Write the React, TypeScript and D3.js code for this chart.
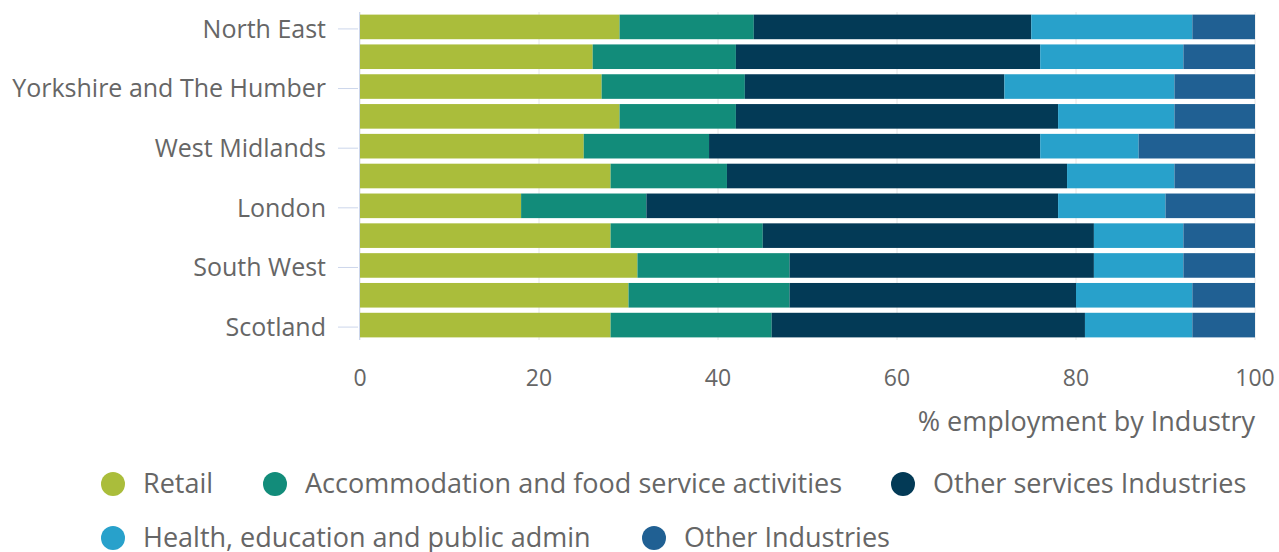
import React from "react";
import * as d3 from "d3";

const regions = ["North East","North West","Yorkshire and The Humber","East Midlands","West Midlands","East of England","London","South East","South West","Wales","Scotland"];
const shownLabels = ["North East","Yorkshire and The Humber","West Midlands","London","South West","Scotland"];
const seriesNames = ["Retail","Accommodation and food service activities","Other services Industries","Health, education and public admin","Other Industries"];
const seriesColors = ["#aabd3b","#128c7a","#033a56","#28a1cb","#206093"];
const retail = [29,26,27,29,25,28,18,28,31,30,28];
const accommodation = [15,16,16,13,14,13,14,17,17,18,18];
const otherServices = [31,34,29,36,37,38,46,37,34,32,35];
const health = [18,16,19,13,11,12,12,10,10,13,12];
const otherIndustries = [7,8,9,9,13,9,10,8,8,7,7];
const xTicks = [0,20,40,60,80,100];
const xTitle = "% employment by Industry";

const W = 1279, H = 552;
const FONT = "'Open Sans', sans-serif";
const left = 360, right = 1255, top = 12, bottom = 340;

export default function App() {
  const x = d3.scaleLinear().domain([0, 100]).range([left, right]);
  const y = d3.scaleBand<string>().domain(regions).range([top, bottom]).paddingInner(0.175).paddingOuter(0.0875);
  const rows = regions.map((r, i) => ({ region: r, s0: retail[i], s1: accommodation[i], s2: otherServices[i], s3: health[i], s4: otherIndustries[i] }));
  const stack = d3.stack<any>().keys(["s0","s1","s2","s3","s4"])(rows);
  const legendItems = [
    { i: 0, cx: 113, cy: 484 },
    { i: 1, cx: 275, cy: 484 },
    { i: 2, cx: 903, cy: 484 },
    { i: 3, cx: 113, cy: 538 },
    { i: 4, cx: 654, cy: 538 },
  ];
  return (
    <svg width={W} height={H} style={{ position: "absolute", left: 0, top: 0, fontFamily: FONT }}>
      <rect width={W} height={H} fill="#fff" />
      {xTicks.map(t => (
        <line key={t} x1={x(t)} x2={x(t)} y1={top} y2={bottom} stroke="#e6e6e6" strokeWidth={1} />
      ))}
      {stack.map((layer, si) => (
        <g key={si} fill={seriesColors[si]}>
          {layer.map((d, i) => (
            <rect key={i} x={x(d[0])} y={y(regions[i])} width={x(d[1]) - x(d[0])} height={y.bandwidth()} />
          ))}
        </g>
      ))}
      <line x1={left - 0.5} x2={left - 0.5} y1={top} y2={bottom} stroke="#ccd6eb" strokeWidth={1} />
      {shownLabels.map(l => {
        const cy = (y(l) as number) + y.bandwidth() / 2 + 2;
        return (
          <g key={l}>
            <line x1={338} x2={358} y1={cy} y2={cy} stroke="#ccd6eb" strokeWidth={1} />
            <text x={326} y={cy} dy="0.35em" textAnchor="end" fontSize={25} fill="#666666">{l}</text>
          </g>
        );
      })}
      {xTicks.map(t => (
        <text key={t} x={x(t)} y={378} dy="0.35em" textAnchor="middle" fontSize={23} fill="#666666">{t}</text>
      ))}
      <text x={right} y={422} dy="0.35em" textAnchor="end" fontSize={27} fill="#666666">{xTitle}</text>
      {legendItems.map(it => (
        <g key={it.i}>
          <circle cx={it.cx} cy={it.cy} r={12} fill={seriesColors[it.i]} />
          <text x={it.cx + 30} y={it.cy} dy="0.35em" fontSize={27} fill="#666666">{seriesNames[it.i]}</text>
        </g>
      ))}
    </svg>
  );
}
